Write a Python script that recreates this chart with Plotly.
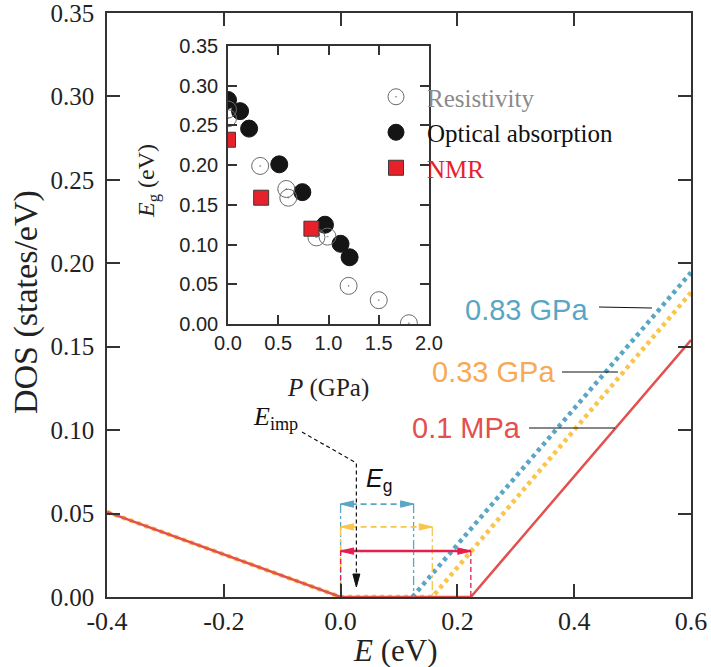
import plotly.graph_objects as go

# ---------------- data ----------------
# main panel: DOS vs E for three pressures
E_01MPa = [-0.4, 0.0, 0.223, 0.6]
DOS_01MPa = [0.051, 0.0, 0.0, 0.154]
E_033GPa = [-0.4, 0.0, 0.157, 0.6]
DOS_033GPa = [0.051, 0.0, 0.0, 0.1825]
E_083GPa = [0.123, 0.6]
DOS_083GPa = [0.0, 0.1945]

# gaps (eV) shown with arrows, and arrow heights (DOS)
gap_labels = ["0.83 GPa", "0.33 GPa", "0.1 MPa"]
gap_values = [0.125, 0.157, 0.223]
gap_arrow_levels = [0.0557, 0.042, 0.0275]
E_imp = 0.027

# inset: Eg vs P
P_res = [0.0, 0.0, 0.32, 0.58, 0.60, 0.88, 0.99, 1.20, 1.50, 1.80]
Eg_res = [0.270, 0.259, 0.199, 0.170, 0.159, 0.109, 0.110, 0.048, 0.030, 0.001]
P_opt = [0.0, 0.12, 0.21, 0.51, 0.74, 0.965, 1.12, 1.21]
Eg_opt = [0.282, 0.268, 0.246, 0.201, 0.166, 0.125, 0.101, 0.084]
P_nmr = [0.0, 0.33, 0.83]
Eg_nmr = [0.232, 0.159, 0.120]

x_ticks = [-0.4, -0.2, 0.0, 0.2, 0.4, 0.6]
x_ticktext = ["-0.4", "-0.2", "0.0", "0.2", "0.4", "0.6"]
y_ticks = [0.0, 0.05, 0.10, 0.15, 0.20, 0.25, 0.30, 0.35]
y_ticktext = ["0.00", "0.05", "0.10", "0.15", "0.20", "0.25", "0.30", "0.35"]
ix_ticks = [0.0, 0.5, 1.0, 1.5, 2.0]
ix_ticktext = ["0.0", "0.5", "1.0", "1.5", "2.0"]

# ---------------- styles ----------------
RED = "#e2504f"
ORANGE_LINE = "#f8c64a"
ORANGE_TEXT = "#f6aa55"
BLUE = "#5aa6c4"
ARROW_RED = "#e61e4d"
SERIF = "Liberation Serif"
SANS = "Liberation Sans"
AX = "#333333"

W, H = 711, 667
L, R, T, B = 107, 20, 13, 70
pw = W - L - R
ph = H - T - B
def px_x(px):  # pixel -> main x data
    return -0.4 + (px - L) / pw * 1.0
def px_y(py):
    return (H - B - py) / ph * 0.35
def pap_x(px):
    return (px - L) / pw
def pap_y(py):
    return (H - B - py) / ph

fig = go.Figure()

# main curves
fig.add_trace(go.Scatter(x=E_033GPa, y=DOS_033GPa, mode="lines",
                         line=dict(color=ORANGE_LINE, width=4.5, dash="4px,4px"),
                         showlegend=False, hoverinfo="skip"))
fig.add_trace(go.Scatter(x=E_083GPa, y=DOS_083GPa, mode="lines",
                         line=dict(color=BLUE, width=4.5, dash="4px,4px"),
                         showlegend=False, hoverinfo="skip"))
fig.add_trace(go.Scatter(x=E_01MPa, y=DOS_01MPa, mode="lines",
                         line=dict(color=RED, width=2.5),
                         showlegend=False, hoverinfo="skip"))

# gap arrows
arrow_colors = [BLUE, ORANGE_LINE, ARROW_RED]
arrow_dash = ["6px,4px", "6px,4px", "solid"]
arrow_w = [1.8, 1.8, 2.5]
vert_dash = ["dashdot", "dashdot", "5px,3px"]
HL = 13 / pw * 1.0      # head length in eV
HH = 3.2 / ph * 0.35    # head half height in DOS
for g, lev, c, d, w, vd in zip(gap_values, gap_arrow_levels, arrow_colors,
                               arrow_dash, arrow_w, vert_dash):
    fig.add_trace(go.Scatter(x=[0.0, g], y=[lev, lev], mode="lines",
                             line=dict(color=c, width=w, dash=d),
                             showlegend=False, hoverinfo="skip"))
    fig.add_trace(go.Scatter(x=[0.0, 0.0, None, g, g], y=[lev, 0, None, lev, 0],
                             mode="lines", line=dict(color=c, width=1.3, dash=vd),
                             showlegend=False, hoverinfo="skip"))
    tx = [0.0, HL, HL, 0.0, None, g, g - HL, g - HL, g]
    ty = [lev, lev + HH, lev - HH, lev, None, lev, lev + HH, lev - HH, lev]
    fig.add_trace(go.Scatter(x=tx, y=ty, mode="lines", fill="toself",
                             fillcolor=c, line=dict(color=c, width=1),
                             showlegend=False, hoverinfo="skip"))

# E_imp dashed pointer
imp_top = px_y(463)
imp_tip = px_y(587)
fig.add_trace(go.Scatter(x=[px_x(302), E_imp, E_imp], y=[px_y(432), imp_top, imp_tip + 0.006],
                         mode="lines", line=dict(color="#111", width=1.2, dash="4px,3px"),
                         showlegend=False, hoverinfo="skip"))
hw = 3.5 / pw * 1.0
hl = 13 / ph * 0.35
fig.add_trace(go.Scatter(x=[E_imp, E_imp - hw, E_imp + hw, E_imp],
                         y=[imp_tip, imp_tip + hl, imp_tip + hl, imp_tip],
                         mode="lines", fill="toself", fillcolor="#111",
                         line=dict(color="#111", width=1),
                         showlegend=False, hoverinfo="skip"))

# inset traces
fig.add_trace(go.Scatter(x=P_opt, y=Eg_opt, mode="markers", xaxis="x2", yaxis="y2",
                         name="Optical absorption", legendrank=2,
                         marker=dict(symbol="circle", size=17, color="#151515",
                                     line=dict(color="#151515", width=1))))
fig.add_trace(go.Scatter(x=P_res, y=Eg_res, mode="markers", xaxis="x2", yaxis="y2",
                         name='<span style="color:#8a8a8a">Resistivity</span>', legendrank=1,
                         marker=dict(symbol="circle-open-dot", size=17, color="#6a6a6a",
                                     line=dict(color="#6a6a6a", width=1))))
fig.add_trace(go.Scatter(x=P_nmr, y=Eg_nmr, mode="markers", xaxis="x2", yaxis="y2",
                         name='<span style="color:#e8202a">NMR</span>', legendrank=3,
                         marker=dict(symbol="square", size=15, color="#e8202a",
                                     line=dict(color="#3a3a3a", width=1))))

axis_common = dict(showline=True, linecolor=AX, linewidth=1.5, mirror="ticks",
                   ticks="inside", tickcolor=AX, tickwidth=1.5, showgrid=False,
                   zeroline=False, automargin=False, ticklabeloverflow="allow")

annotations = []
# axis titles
annotations.append(dict(text="DOS (states/eV)", xref="paper", yref="paper",
                        x=pap_x(26), y=pap_y(302), textangle=-90, showarrow=False,
                        xanchor="center", yanchor="middle",
                        font=dict(family=SERIF, size=34, color="#222")))
annotations.append(dict(text="<i>E</i> (eV)", xref="paper", yref="paper",
                        x=pap_x(395), y=pap_y(650), showarrow=False,
                        xanchor="center", yanchor="middle",
                        font=dict(family=SERIF, size=31, color="#222")))
annotations.append(dict(text="<i>E</i><sub>g</sub> (eV)", xref="paper", yref="paper",
                        x=pap_x(148), y=pap_y(181), textangle=-90, showarrow=False,
                        xanchor="center", yanchor="middle",
                        font=dict(family=SERIF, size=24, color="#222")))
annotations.append(dict(text="<i>P</i> (GPa)", xref="paper", yref="paper",
                        x=pap_x(328), y=pap_y(388), showarrow=False,
                        xanchor="center", yanchor="middle",
                        font=dict(family=SERIF, size=25, color="#222")))
# curve labels
label_colors = [BLUE, ORANGE_TEXT, RED]
label_right_px = [590, 557, 523]
label_y_px = [310, 372, 428]
leaders = [(599, 652, 307, 308), (562, 618, 372, 372), (529, 615, 428, 428)]
shapes = []
for lab, c, rx, ly, ld in zip(gap_labels, label_colors, label_right_px, label_y_px, leaders):
    annotations.append(dict(text=lab, xref="x", yref="y", x=px_x(rx), y=px_y(ly),
                            showarrow=False, xanchor="right", yanchor="middle",
                            font=dict(family=SANS, size=29, color=c)))
    shapes.append(dict(type="line", xref="x", yref="y", x0=px_x(ld[0]), x1=px_x(ld[1]),
                       y0=px_y(ld[2]), y1=px_y(ld[3]), line=dict(color="#111", width=1.2)))
annotations.append(dict(text="<i>E</i><sub>g</sub>", xref="x", yref="y",
                        x=px_x(364), y=px_y(480), showarrow=False,
                        xanchor="left", yanchor="middle",
                        font=dict(family=SANS, size=25, color="#111")))
annotations.append(dict(text="<i>E</i><sub>imp</sub>", xref="x", yref="y",
                        x=px_x(300), y=px_y(418), showarrow=False,
                        xanchor="right", yanchor="middle",
                        font=dict(family=SERIF, size=26, color="#111")))

fig.update_layout(
    width=W, height=H,
    margin=dict(l=L, r=R, t=T, b=B, autoexpand=False),
    paper_bgcolor="white", plot_bgcolor="white",
    xaxis=dict(range=[-0.4, 0.6], tickvals=x_ticks, ticktext=x_ticktext, ticklen=13,
               tickfont=dict(family=SERIF, size=26, color="#222"), ticklabelstandoff=0,
               **axis_common),
    yaxis=dict(range=[0, 0.35], tickvals=y_ticks, ticktext=y_ticktext, ticklen=13,
               tickfont=dict(family=SERIF, size=25, color="#222"), ticklabelstandoff=6,
               **axis_common),
    xaxis2=dict(domain=[pap_x(228), pap_x(429)], anchor="y2", range=[0, 2.0],
                tickvals=ix_ticks, ticktext=ix_ticktext, ticklen=9,
                tickfont=dict(family=SANS, size=20, color="#222"), ticklabelstandoff=0,
                **axis_common),
    yaxis2=dict(domain=[pap_y(324), pap_y(46)], anchor="x2", range=[0, 0.35],
                tickvals=y_ticks, ticktext=y_ticktext, ticklen=9,
                tickfont=dict(family=SANS, size=20, color="#222"), ticklabelstandoff=4,
                **axis_common),
    legend=dict(x=pap_x(365), y=pap_y(74), xanchor="left", yanchor="top",
                bgcolor="rgba(0,0,0,0)", itemwidth=52, tracegroupgap=0,
                font=dict(family=SERIF, size=25, color="#111")),
    annotations=annotations,
    shapes=shapes,
)

fig.write_html("out.html")
